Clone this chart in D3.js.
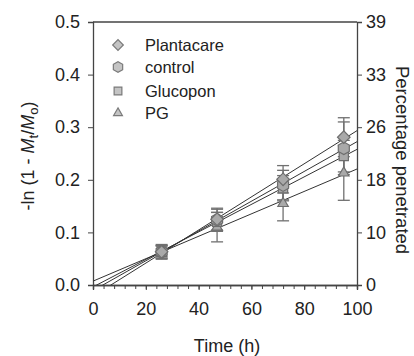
<!DOCTYPE html>
<html>
<head>
<meta charset="utf-8">
<script src="https://cdn.jsdelivr.net/npm/d3@7"></script>
<style>
    body { margin: 0; background: #fff; }
    svg text { font-family: "Liberation Sans", Arial, sans-serif; fill: #222; }
</style>
</head>
<body>
<div id="chart"></div>
<script>
//Data
var timeHours = [26, 47, 72, 95];
var seriesNames = ["Plantacare", "control", "Glucopon", "PG"];
var seriesShapes = ["diamond", "hexagon", "square", "triangle"];
var plantacareValues = [0.063, 0.125, 0.201, 0.281];
var controlValues = [0.063, 0.124, 0.190, 0.260];
var glucoponValues = [0.064, 0.120, 0.184, 0.245];
var pgValues = [0.063, 0.110, 0.155, 0.213];
var plantacareErrors = [0.012, 0.021, 0.026, 0.037];
var controlErrors = [0.012, 0.020, 0.028, 0.050];
var glucoponErrors = [0.010, 0.018, 0.024, 0.030];
var pgErrors = [0.014, 0.028, 0.033, 0.052];
var xTicks = [0, 20, 40, 60, 80, 100];
var yTicks = [0, 0.1, 0.2, 0.3, 0.4, 0.5];
var rightTickLabels = ["0", "10", "18", "26", "33", "39"];

var allValues = [plantacareValues, controlValues, glucoponValues, pgValues];
var allErrors = [plantacareErrors, controlErrors, glucoponErrors, pgErrors];

var width = 414, height = 356;
var margin = {top: 22, right: 57, bottom: 71, left: 93};

var svg = d3.select("#chart")
    .append("svg")
    .attr("width", width)
    .attr("height", height);

var x = d3.scaleLinear().domain([0, 100]).range([margin.left, width - margin.right]);
var y = d3.scaleLinear().domain([0, 0.5]).range([height - margin.bottom, margin.top]);

svg.append("clipPath")
    .attr("id", "plot-clip")
    .append("rect")
    .attr("x", margin.left)
    .attr("y", margin.top)
    .attr("width", width - margin.left - margin.right)
    .attr("height", height - margin.top - margin.bottom);

//Axes: left, bottom, right, plus the top frame line
var axisColor = "#444";

var xAxis = svg.append("g")
    .attr("transform", "translate(0," + y(0) + ")")
    .call(d3.axisBottom(x).tickValues(d3.range(0, 101, 4)).tickSize(4).tickFormat(""));
xAxis.append("g")
    .call(d3.axisBottom(x).tickValues(xTicks).tickSize(5).tickPadding(12));

var yAxis = svg.append("g")
    .attr("transform", "translate(" + x(0) + ",0)")
    .call(d3.axisLeft(y).tickValues(yTicks).tickSize(5).tickPadding(8).tickFormat(d3.format(".1f")));

var rightAxis = svg.append("g")
    .attr("transform", "translate(" + x(100) + ",0)")
    .call(d3.axisRight(y).tickValues(yTicks).tickSize(5).tickPadding(4)
        .tickFormat(function (d, i) { return rightTickLabels[i]; }));

svg.selectAll(".domain").attr("stroke", axisColor).attr("stroke-width", 1.3);
svg.selectAll(".tick line").attr("stroke", axisColor).attr("stroke-width", 1);
svg.selectAll(".tick text").attr("font-size", "18px").attr("fill", "#222");

svg.append("line")
    .attr("x1", x(0))
    .attr("x2", x(100))
    .attr("y1", y(0.5))
    .attr("y2", y(0.5))
    .attr("stroke", axisColor)
    .attr("stroke-width", 1.3);

//Axis titles
var yTitle = svg.append("text")
    .attr("transform", "translate(34," + 156 + ") rotate(-90)")
    .attr("text-anchor", "middle")
    .attr("font-size", "18px");
yTitle.append("tspan").text("-ln (1 - ");
yTitle.append("tspan").attr("font-style", "italic").text("M");
yTitle.append("tspan").attr("font-size", "13px").attr("dy", "4").text("t");
yTitle.append("tspan").attr("dy", "-4").text("/");
yTitle.append("tspan").attr("font-style", "italic").text("M");
yTitle.append("tspan").attr("font-size", "13px").attr("dy", "4").text("o");
yTitle.append("tspan").attr("dy", "-4").text(")");

svg.append("text")
    .attr("transform", "translate(396," + 160 + ") rotate(90)")
    .attr("text-anchor", "middle")
    .attr("font-size", "18.5px")
    .text("Percentage  penetrated");

svg.append("text")
    .attr("x", x(50) + 2)
    .attr("y", 352)
    .attr("text-anchor", "middle")
    .attr("font-size", "18px")
    .text("Time (h)");

//Marker shapes
function symbolFor(shape, size) {
    switch (shape) {
        case "diamond":
            return d3.symbol().type(d3.symbolSquare).size(size * 0.75)();
        case "hexagon":
            var r = Math.sqrt(size / 2.6);
            var pts = d3.range(6).map(function (k) {
                var a = Math.PI / 6 + k * Math.PI / 3;
                return [r * Math.cos(a), r * Math.sin(a)];
            });
            return "M" + pts.join("L") + "Z";
        case "square":
            return d3.symbol().type(d3.symbolSquare).size(size * 0.8)();
        case "triangle":
            return d3.symbol().type(d3.symbolTriangle).size(size * 0.45)();
    }
}

function rotateFor(shape) {
    return shape === "diamond" ? " rotate(45)" : "";
}

//Least squares fit per series
function fitLine(xs, ys) {
    var mx = d3.mean(xs), my = d3.mean(ys);
    var sxy = d3.sum(xs, function (d, i) { return (d - mx) * (ys[i] - my); });
    var sxx = d3.sum(xs, function (d) { return (d - mx) * (d - mx); });
    var slope = sxy / sxx;
    return {slope: slope, intercept: my - slope * mx};
}

var plot = svg.append("g").attr("clip-path", "url(#plot-clip)");

allValues.forEach(function (vals) {
    var fit = fitLine(timeHours, vals);
    plot.append("line")
        .attr("x1", x(0))
        .attr("y1", y(fit.intercept))
        .attr("x2", x(100))
        .attr("y2", y(fit.intercept + fit.slope * 100))
        .attr("stroke", "#333")
        .attr("stroke-width", 1);
});

//Error bars
var errColor = "#707070";
allValues.forEach(function (vals, s) {
    var errs = allErrors[s];
    var g = svg.append("g").attr("stroke", errColor).attr("stroke-width", 1.3);
    timeHours.forEach(function (t, i) {
        var lo = y(vals[i] - errs[i]), hi = y(vals[i] + errs[i]);
        g.append("line").attr("x1", x(t)).attr("x2", x(t)).attr("y1", lo).attr("y2", hi);
        g.append("line").attr("x1", x(t) - 6).attr("x2", x(t) + 6).attr("y1", lo).attr("y2", lo);
        g.append("line").attr("x1", x(t) - 6).attr("x2", x(t) + 6).attr("y1", hi).attr("y2", hi);
    });
});

//Markers, drawn back to front
var drawOrder = [3, 2, 1, 0];
drawOrder.forEach(function (s) {
    var shape = seriesShapes[s];
    svg.append("g").selectAll("path")
        .data(allValues[s])
        .enter()
        .append("path")
        .attr("d", symbolFor(shape, 105))
        .attr("transform", function (d, i) {
            return "translate(" + x(timeHours[i]) + "," + y(d) + ")" + rotateFor(shape);
        })
        .attr("fill", "#a9a9a9")
        .attr("stroke", "#6e6e6e")
        .attr("stroke-width", 1.2);
});

//Legend
var legendRows = [45, 67, 91, 113];
var legend = svg.append("g").attr("transform", "translate(118,0)");
seriesNames.forEach(function (name, i) {
    var row = legend.append("g").attr("transform", "translate(0," + legendRows[i] + ")");
    row.append("path")
        .attr("d", symbolFor(seriesShapes[i], 75))
        .attr("transform", rotateFor(seriesShapes[i]))
        .attr("fill", "#c4c4c4")
        .attr("stroke", "#7a7a7a")
        .attr("stroke-width", 1.2);
    row.append("text")
        .attr("x", 27)
        .attr("y", 6)
        .attr("font-size", "16.5px")
        .text(name);
});
</script>
</body>
</html>
